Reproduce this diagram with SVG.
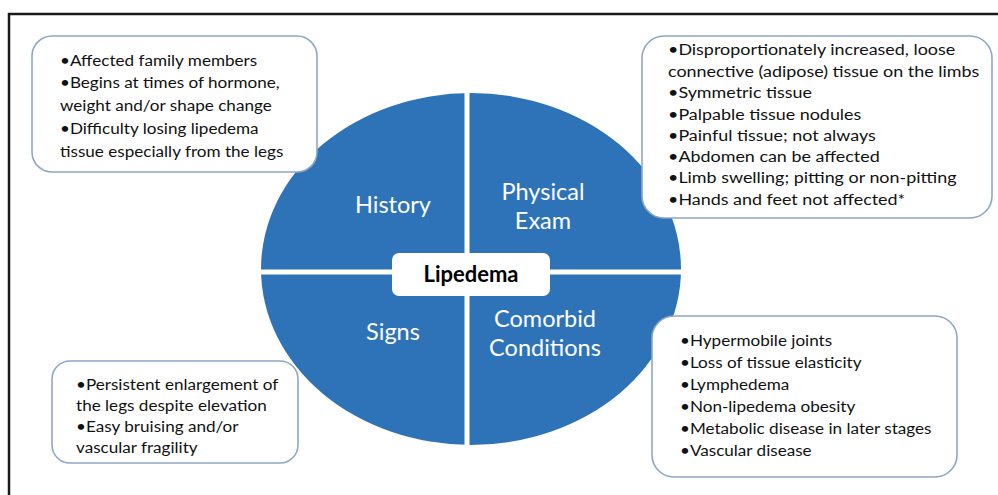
<svg xmlns="http://www.w3.org/2000/svg" width="998" height="495" viewBox="0 0 998 495">
<style>
.box{fill:#fff;stroke:#8ea7c6;stroke-width:1.6}
.txt{font-family:Lato,"Liberation Sans",sans-serif;font-size:16px;fill:#111}
.quad{font-family:Lato,"Liberation Sans",sans-serif;font-size:23.5px;fill:#fff;text-anchor:middle}
.center{font-family:Lato,"Liberation Sans",sans-serif;font-size:22px;font-weight:bold;fill:#000;text-anchor:middle}
</style>
<rect x="0" y="0" width="998" height="495" fill="#fff"/>
<path d="M9 495 V14 H998" fill="none" stroke="#1a1a1a" stroke-width="2.5"/>
<g id="ellipse">
<ellipse cx="471" cy="269" rx="210" ry="176" fill="#2e73b8"/>
<line x1="467" y1="90" x2="467" y2="450" stroke="#fff" stroke-width="5"/>
<line x1="255" y1="272" x2="690" y2="272" stroke="#fff" stroke-width="5"/>
</g>
<g id="history">
<text class="quad" x="393" y="213">History</text>
</g>
<g id="physical-exam">
<text class="quad" x="543" y="200">Physical</text>
<text class="quad" x="543" y="229">Exam</text>
</g>
<g id="signs">
<text class="quad" x="393" y="340">Signs</text>
</g>
<g id="comorbid">
<text class="quad" x="545" y="327">Comorbid</text>
<text class="quad" x="545" y="356">Conditions</text>
</g>
<g id="lipedema">
<rect x="392" y="253" width="158" height="43" rx="7" fill="#fff"/>
<text class="center" x="471" y="282">Lipedema</text>
</g>
<g id="history-box">
<rect class="box" x="32" y="36" width="285" height="136" rx="20"/>
<g transform="translate(60 0) scale(1.07 1)">
<text class="txt" x="0" y="66">•Affected family members</text>
<text class="txt" x="0" y="88.5">•Begins at times of hormone,</text>
<text class="txt" x="0" y="111">weight and/or shape change</text>
<text class="txt" x="0" y="134">•Difficulty losing lipedema</text>
<text class="txt" x="0" y="157">tissue especially from the legs</text>
</g>
</g>
<g id="exam-box">
<rect class="box" x="642" y="36" width="350" height="182" rx="22"/>
<g transform="translate(668 0) scale(1.12 1)">
<text class="txt" x="0" y="55">•Disproportionately increased, loose</text>
<text class="txt" x="0" y="77">connective (adipose) tissue on the limbs</text>
<text class="txt" x="0" y="98">•Symmetric tissue</text>
<text class="txt" x="0" y="120">•Palpable tissue nodules</text>
<text class="txt" x="0" y="141">•Painful tissue; not always</text>
<text class="txt" x="0" y="162">•Abdomen can be affected</text>
<text class="txt" x="0" y="183">•Limb swelling; pitting or non-pitting</text>
<text class="txt" x="0" y="205">•Hands and feet not affected*</text>
</g>
</g>
<g id="signs-box">
<rect class="box" x="52" y="361" width="246" height="102" rx="18"/>
<g transform="translate(76 0) scale(1.07 1)">
<text class="txt" x="0" y="390">•Persistent enlargement of</text>
<text class="txt" x="0" y="411">the legs despite elevation</text>
<text class="txt" x="0" y="432">•Easy bruising and/or</text>
<text class="txt" x="0" y="453">vascular fragility</text>
</g>
</g>
<g id="comorbid-box">
<rect class="box" x="652" y="316" width="305" height="161" rx="22"/>
<g transform="translate(680 0) scale(1.07 1)">
<text class="txt" x="0" y="346">•Hypermobile joints</text>
<text class="txt" x="0" y="368">•Loss of tissue elasticity</text>
<text class="txt" x="0" y="390">•Lymphedema</text>
<text class="txt" x="0" y="412">•Non-lipedema obesity</text>
<text class="txt" x="0" y="434">•Metabolic disease in later stages</text>
<text class="txt" x="0" y="456">•Vascular disease</text>
</g>
</g>
<g id="connectors"/>
</svg>
